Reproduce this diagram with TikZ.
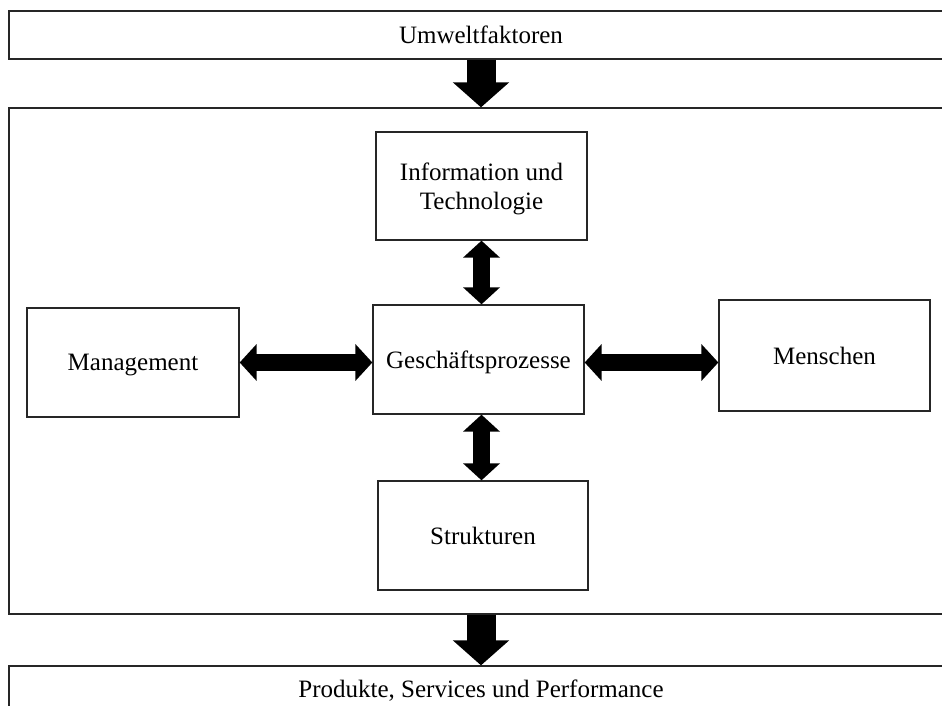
\documentclass[tikz,border=0pt]{standalone}
\usepackage{fontspec}
\setmainfont{Liberation Serif}
\usetikzlibrary{arrows.meta}
\begin{document}
\begin{tikzpicture}[x=1pt,y=-1pt,
  box/.style={draw=black!85, line width=1.3pt, fill=white, inner sep=0pt,
    align=center, font=\fontsize{25}{29}\selectfont},
  flow/.style={line width=29pt, black,
    -{Triangle[width=55pt,length=25pt]}},
  link/.style={line width=17pt, black,
    {Triangle[width=36pt,length=17pt]}-{Triangle[width=36pt,length=17pt]}}]
  \clip (0,0) rectangle (942,706);
  % outer frames
  \node[box, minimum width=944pt, minimum height=48pt] (env) at (481,35) {Umweltfaktoren};
  \node[box, minimum width=944pt, minimum height=506pt] (org) at (481,361) {};
  \node[box, minimum width=944pt, minimum height=52pt, text depth=0pt] (out) at (481,692) {};
  \node[font=\fontsize{25}{29}\selectfont] (outtext) at (481,691) {Produkte, Services und Performance};
  % inner components
  \node[box, minimum width=211pt, minimum height=108pt, text depth=0pt] (info) at (481.5,186) {Information und\\Technologie};
  \node[box, minimum width=211pt, minimum height=109pt, text depth=0pt] (gp) at (478.5,359.5) {Geschäftsprozesse};
  \node[box, minimum width=212pt, minimum height=109pt, text depth=0pt] (mgmt) at (133,362.5) {Management};
  \node[box, minimum width=211pt, minimum height=111pt] (men) at (824.5,355.5) {Menschen};
  \node[box, minimum width=210pt, minimum height=109pt] (str) at (483,535.5) {Strukturen};
  % flows between the frames
  \draw[flow] (env.south) -- (org.north);
  \draw[flow] (org.south) -- (out.north);
  % links to the business processes
  \draw[link] (mgmt.east) -- (mgmt.east -| gp.west);
  \draw[link] (gp.east |- mgmt.east) -- (mgmt.east -| men.west);
  \draw[link] (info.south) -- (info.south |- gp.north);
  \draw[link] (info.south |- gp.south) -- (info.south |- str.north);
\end{tikzpicture}
\end{document}
